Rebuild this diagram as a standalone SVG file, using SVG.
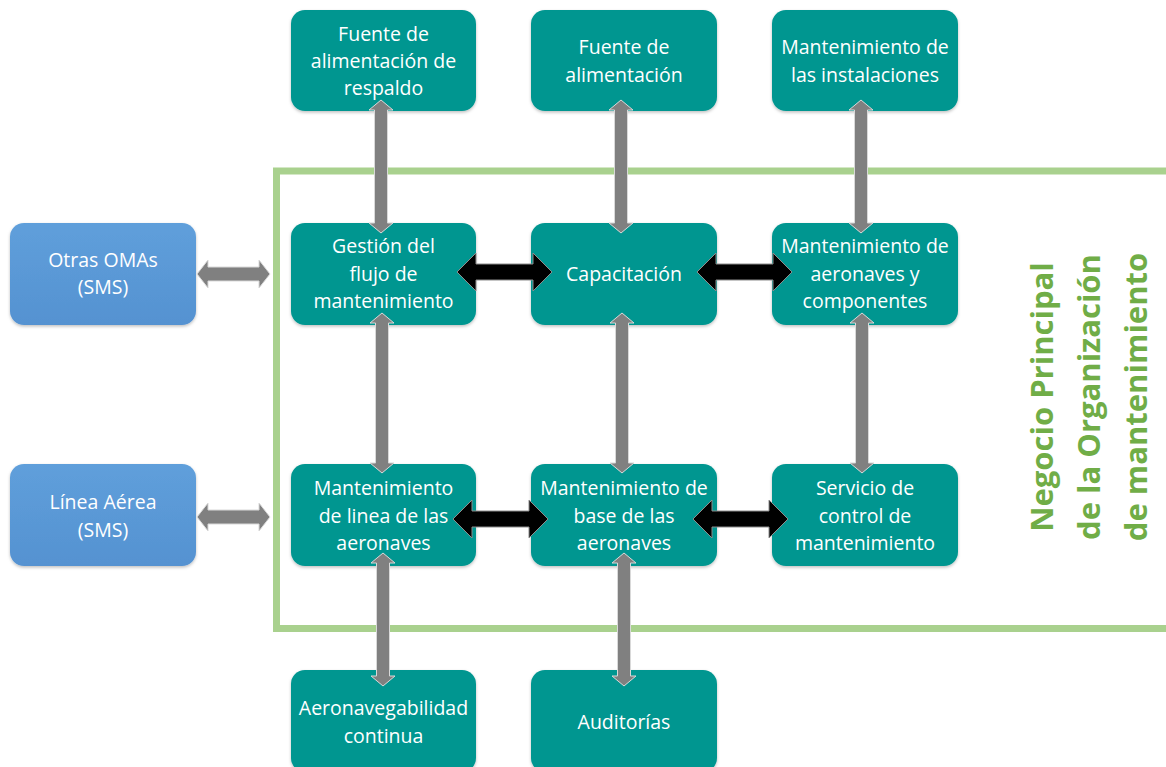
<svg xmlns="http://www.w3.org/2000/svg" width="1166" height="767" viewBox="0 0 1166 767">
<defs>
<linearGradient id="blueGrad" x1="0" y1="0" x2="0" y2="1">
<stop offset="0" stop-color="#5f9fdb"/>
<stop offset="1" stop-color="#5592d1"/>
</linearGradient>
<filter id="sh" x="-10%" y="-10%" width="120%" height="130%">
<feDropShadow dx="0" dy="1.5" stdDeviation="1.5" flood-color="#000" flood-opacity="0.25"/>
</filter>
</defs>
<style>
.teal{fill:#009690;filter:url(#sh)}
.blue{fill:url(#blueGrad);filter:url(#sh)}
.lbl{font-family:"Open Sans","Noto Sans","Liberation Sans",sans-serif;font-size:19.5px;fill:#ffffff;text-anchor:middle}
.gray{fill:#808080;stroke:#d9d9d9;stroke-width:1}
.black{fill:#000000;stroke:#8c8c8c;stroke-width:1}
.title{font-family:"Open Sans","Noto Sans","Liberation Sans",sans-serif;font-size:31px;font-weight:bold;fill:#70ad47;text-anchor:middle}
</style>
<rect width="1166" height="767" fill="#ffffff"/>
<g id="border">
<rect x="276.5" y="171" width="900" height="457.5" fill="none" stroke="#a9d18e" stroke-width="7"/>
<g transform="translate(1090,397) rotate(-90)">
<text class="title" x="0" y="-37">Negocio Principal</text>
<text class="title" x="0" y="10">de la Organización</text>
<text class="title" x="0" y="57">de mantenimiento</text>
</g>
</g>
<g id="n-fuente-respaldo"><rect class="teal" x="291" y="10" width="185" height="101" rx="14"/>
<text class="lbl" x="383.5" y="41">Fuente de</text><text class="lbl" x="383.5" y="68">alimentación de</text><text class="lbl" x="383.5" y="95">respaldo</text></g>
<g id="n-fuente"><rect class="teal" x="531" y="10" width="186" height="101" rx="14"/>
<text class="lbl" x="624" y="54">Fuente de</text><text class="lbl" x="624" y="82">alimentación</text></g>
<g id="n-mant-inst"><rect class="teal" x="772" y="10" width="186" height="101" rx="14"/>
<text class="lbl" x="865" y="54">Mantenimiento de</text><text class="lbl" x="865" y="82">las instalaciones</text></g>
<g id="n-otras"><rect class="blue" x="10" y="223" width="186" height="102" rx="14"/>
<text class="lbl" x="103" y="267">Otras OMAs</text><text class="lbl" x="103" y="294">(SMS)</text></g>
<g id="n-gestion"><rect class="teal" x="291" y="223" width="185" height="102" rx="14"/>
<text class="lbl" x="383.5" y="253">Gestión del</text><text class="lbl" x="383.5" y="281">flujo de</text><text class="lbl" x="383.5" y="308">mantenimiento</text></g>
<g id="n-capacitacion"><rect class="teal" x="531" y="223" width="186" height="102" rx="14"/>
<text class="lbl" x="624" y="281">Capacitación</text></g>
<g id="n-mant-aero"><rect class="teal" x="772" y="223" width="186" height="102" rx="14"/>
<text class="lbl" x="865" y="253">Mantenimiento de</text><text class="lbl" x="865" y="281">aeronaves y</text><text class="lbl" x="865" y="308">componentes</text></g>
<g id="n-linea-aerea"><rect class="blue" x="10" y="464" width="186" height="102" rx="14"/>
<text class="lbl" x="103" y="509">Línea Aérea</text><text class="lbl" x="103" y="537">(SMS)</text></g>
<g id="n-mant-linea"><rect class="teal" x="291" y="464" width="185" height="102" rx="14"/>
<text class="lbl" x="383.5" y="495">Mantenimiento</text><text class="lbl" x="383.5" y="523">de linea de las</text><text class="lbl" x="383.5" y="550">aeronaves</text></g>
<g id="n-mant-base"><rect class="teal" x="531" y="464" width="186" height="102" rx="14"/>
<text class="lbl" x="624" y="495">Mantenimiento de</text><text class="lbl" x="624" y="523">base de las</text><text class="lbl" x="624" y="550">aeronaves</text></g>
<g id="n-servicio"><rect class="teal" x="772" y="464" width="186" height="102" rx="14"/>
<text class="lbl" x="865" y="495">Servicio de</text><text class="lbl" x="865" y="523">control de</text><text class="lbl" x="865" y="550">mantenimiento</text></g>
<g id="n-aeronaveg"><rect class="teal" x="291" y="670" width="185" height="102" rx="14"/>
<text class="lbl" x="383.5" y="715">Aeronavegabilidad</text><text class="lbl" x="383.5" y="743">continua</text></g>
<g id="n-auditorias"><rect class="teal" x="531" y="670" width="186" height="102" rx="14"/>
<text class="lbl" x="624" y="729">Auditorías</text></g>
<g id="connectors">
<polygon class="gray" points="381,100 393,110 387.5,110 387.5,223 393,223 381,233 369,223 374.5,223 374.5,110 369,110"/>
<polygon class="gray" points="621,100 633,110 627.5,110 627.5,223 633,223 621,233 609,223 614.5,223 614.5,110 609,110"/>
<polygon class="gray" points="861,100 873,110 867.5,110 867.5,223 873,223 861,233 849,223 854.5,223 854.5,110 849,110"/>
<polygon class="gray" points="382,313 394,323 388.5,323 388.5,463 394,463 382,473 370,463 375.5,463 375.5,323 370,323"/>
<polygon class="gray" points="622,313 634,323 628.5,323 628.5,463 634,463 622,473 610,463 615.5,463 615.5,323 610,323"/>
<polygon class="gray" points="862,313 874,323 868.5,323 868.5,463 874,463 862,473 850,463 855.5,463 855.5,323 850,323"/>
<polygon class="gray" points="383,553 395,563 389.5,563 389.5,676 395,676 383,686 371,676 376.5,676 376.5,563 371,563"/>
<polygon class="gray" points="624,553 636,563 630.5,563 630.5,676 636,676 624,686 612,676 617.5,676 617.5,563 612,563"/>
<polygon class="gray" points="197,274 208,260 208,267 259,267 259,260 270,274 259,288 259,281 208,281 208,288"/>
<polygon class="gray" points="197,517 208,503 208,510 259,510 259,503 270,517 259,531 259,524 208,524 208,531"/>
<polygon class="black" points="457,272 476,253 476,264 533,264 533,253 552,272 533,291 533,280 476,280 476,291"/>
<polygon class="black" points="697,272 716,253 716,264 773,264 773,253 792,272 773,291 773,280 716,280 716,291"/>
<polygon class="black" points="453,519 472,500 472,511 529,511 529,500 548,519 529,538 529,527 472,527 472,538"/>
<polygon class="black" points="693,519 712,500 712,511 769,511 769,500 788,519 769,538 769,527 712,527 712,538"/>
</g>
</svg>
